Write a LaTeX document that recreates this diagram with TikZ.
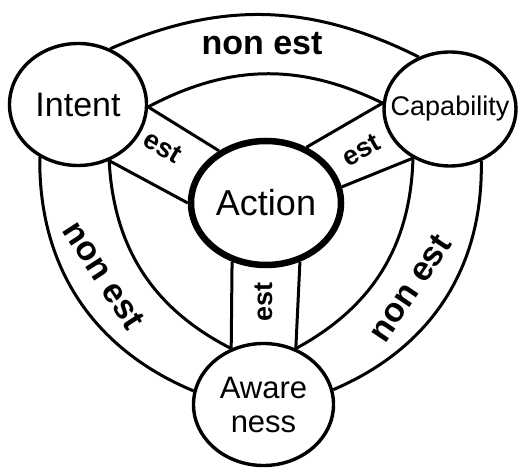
\documentclass[tikz,border=0pt]{standalone}
\usepackage{fontspec}
\setmainfont{Liberation Sans}
\usetikzlibrary{shapes.geometric}

\begin{document}
\begin{tikzpicture}[x=1pt,y=1pt,
  member/.style={draw,ellipse,line width=3.4pt,inner sep=0pt,align=center},
  rim/.style={line width=3pt},
  motto/.style={font=\bfseries\fontsize{34}{34}\selectfont,inner sep=0pt},
  link/.style={font=\bfseries\fontsize{27}{27}\selectfont,inner sep=0pt}]
\useasboundingbox (0,0) rectangle (521,468);
\node[member,minimum width=137,minimum height=122,font=\fontsize{34}{34}\selectfont] (intent) at (78,363.5) {Intent};
\node[member,minimum width=132,minimum height=114,font=\fontsize{27}{27}\selectfont] (capab) at (450,359) {\makebox[0pt]{Capability}};
\node[member,minimum width=140,minimum height=122,font=\fontsize{31}{34}\selectfont] (aware) at (263.5,63.5) {Aware\\ness};
\node[member,line width=6.5pt,minimum width=150,minimum height=124,font=\fontsize{36}{36}\selectfont] (action) at (266,265) {Action};
\draw[rim] (intent.60) to[bend left=25] (capab.121);
\draw[rim] (intent.-2) to[bend left=27] (capab.175);
\draw[rim] (intent.-126) to[bend right=34] (aware.169);
\draw[rim] (intent.-61) to[bend right=30] (aware.120);
\draw[rim] (capab.-59) to[bend left=34] (aware.12);
\draw[rim] (capab.233) to[bend left=30] (aware.60);
\draw[rim] (intent.-2) -- (action.132);
\draw[rim] (intent.-61) -- (action.180);
\draw[rim] (capab.175) -- (action.54);
\draw[rim] (capab.233) -- (action.12);
\draw[rim] (aware.120) -- (action.240);
\draw[rim] (aware.60) -- (action.300);
\node[motto] (top) at (262,424) {non est};
\node[motto,rotate=-57] (left) at (104,193) {non est};
\node[motto,rotate=56] (right) at (410,180) {non est};
\node[link,rotate=-31] (est1) at (163,321) {est};
\node[link,rotate=29] (est2) at (361,318) {est};
\node[link,rotate=90] (est3) at (264,166) {est};
\end{tikzpicture}
\end{document}
